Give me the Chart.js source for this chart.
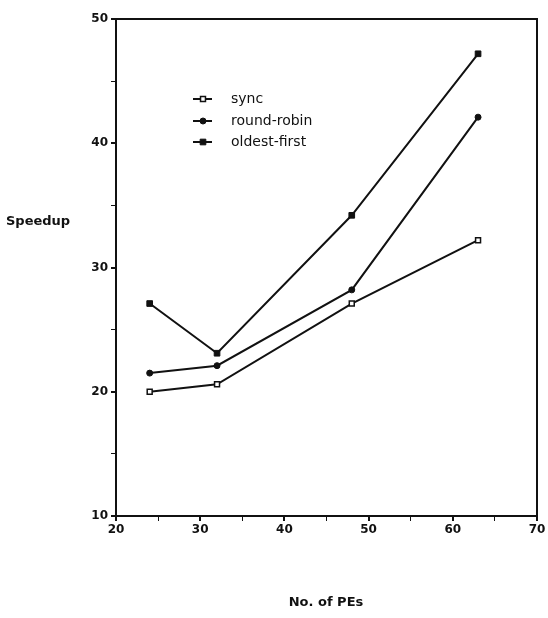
<!DOCTYPE html>
<html>
<head>
<meta charset="utf-8">
<script src="https://cdn.jsdelivr.net/npm/chart.js@4/dist/chart.umd.min.js"></script>
<style>
  html, body { margin: 0; padding: 0; background: #fff; }
  #wrap { width: 548px; height: 618px; position: relative; }
</style>
</head>
<body>
<div id="wrap"><canvas id="speedupChart"></canvas></div>
<script>
// Speedup vs. number of processing elements
const peCounts = [24, 32, 48, 63];
const syncSpeedup = [20.0, 20.6, 27.1, 32.2];
const roundRobinSpeedup = [21.5, 22.1, 28.2, 42.1];
const oldestFirstSpeedup = [27.1, 23.1, 34.2, 47.2];
const seriesLabels = ['sync', 'round-robin', 'oldest-first'];
const xTickLabels = [20, 30, 40, 50, 60, 70];
const yTickLabels = [10, 20, 30, 40, 50];

const ink = '#111';
const tickFont = { family: 'DejaVu Sans', size: 12, weight: 'bold' };

function toPoints(values) {
  return peCounts.map((pe, i) => ({ x: pe, y: values[i] }));
}

// box around the plot, axis titles and the inset legend
const framePlugin = {
  id: 'frame',
  afterDraw(chart) {
    const { ctx, chartArea: a } = chart;
    ctx.save();
    ctx.strokeStyle = ink;
    ctx.lineWidth = 2;
    ctx.strokeRect(a.left, a.top, a.right - a.left, a.bottom - a.top);

    ctx.fillStyle = ink;
    ctx.font = 'bold 13px "DejaVu Sans"';
    ctx.textBaseline = 'middle';
    ctx.textAlign = 'left';
    ctx.fillText('Speedup', 6, 222);
    ctx.textAlign = 'center';
    ctx.fillText('No. of PEs', 326, 603);

    // legend
    const rows = [99, 121, 142];
    ctx.font = '14px "DejaVu Sans"';
    ctx.textAlign = 'left';
    chart.data.datasets.forEach((ds, i) => {
      const y = rows[i];
      ctx.strokeStyle = ink;
      ctx.lineWidth = 2;
      ctx.beginPath();
      ctx.moveTo(193, y);
      ctx.lineTo(212, y);
      ctx.stroke();
      ctx.fillStyle = ds.pointBackgroundColor;
      ctx.strokeStyle = ds.pointBorderColor;
      ctx.lineWidth = ds.pointBorderWidth;
      Chart.helpers.drawPoint(ctx, {
        pointStyle: ds.pointStyle,
        radius: ds.pointRadius,
        borderWidth: ds.pointBorderWidth
      }, 203, y);
      ctx.fillStyle = ink;
      ctx.fillText(ds.label, 231, y);
    });
    ctx.restore();
  }
};

const ctx = document.getElementById('speedupChart').getContext('2d');
new Chart(ctx, {
  type: 'line',
  data: {
    datasets: [
      {
        label: seriesLabels[0],
        data: toPoints(syncSpeedup),
        borderColor: ink,
        borderWidth: 2,
        pointStyle: 'rect',
        pointRadius: 3.5,
        pointBorderWidth: 1.5,
        pointBackgroundColor: '#fff',
        pointBorderColor: ink
      },
      {
        label: seriesLabels[1],
        data: toPoints(roundRobinSpeedup),
        borderColor: ink,
        borderWidth: 2,
        pointStyle: 'circle',
        pointRadius: 3,
        pointBorderWidth: 1,
        pointBackgroundColor: ink,
        pointBorderColor: ink
      },
      {
        label: seriesLabels[2],
        data: toPoints(oldestFirstSpeedup),
        borderColor: ink,
        borderWidth: 2,
        pointStyle: 'rect',
        pointRadius: 4,
        pointBorderWidth: 1,
        pointBackgroundColor: ink,
        pointBorderColor: ink
      }
    ]
  },
  options: {
    responsive: true,
    maintainAspectRatio: false,
    animation: false,
    layout: { padding: { top: 19, right: 11, left: 0, bottom: 0 } },
    plugins: {
      legend: { display: false },
      tooltip: { enabled: false }
    },
    scales: {
      x: {
        type: 'linear',
        min: xTickLabels[0],
        max: xTickLabels[xTickLabels.length - 1],
        afterBuildTicks(scale) {
          const t = [];
          for (let v = scale.min; v <= scale.max; v += 5) t.push({ value: v });
          scale.ticks = t;
        },
        afterFit(scale) { scale.height = 102; },
        border: { display: true, color: ink, width: 2 },
        grid: {
          drawOnChartArea: false,
          color: ink,
          tickLength: 5,
          lineWidth: (c) => (xTickLabels.includes(c.tick.value) ? 2 : 1)
        },
        ticks: {
          color: ink,
          font: tickFont,
          padding: 2,
          maxRotation: 0,
          callback: (v) => (xTickLabels.includes(v) ? String(v) : '')
        }
      },
      y: {
        type: 'linear',
        min: yTickLabels[0],
        max: yTickLabels[yTickLabels.length - 1],
        afterBuildTicks(scale) {
          const t = [];
          for (let v = scale.min; v <= scale.max; v += 5) t.push({ value: v });
          scale.ticks = t;
        },
        afterFit(scale) { scale.width = 116; },
        border: { display: true, color: ink, width: 2 },
        grid: {
          drawOnChartArea: false,
          color: ink,
          tickLength: 5,
          lineWidth: (c) => (yTickLabels.includes(c.tick.value) ? 2 : 1)
        },
        ticks: {
          color: ink,
          font: tickFont,
          padding: 3,
          callback: (v) => (yTickLabels.includes(v) ? String(v) : '')
        }
      }
    }
  },
  plugins: [framePlugin]
});
</script>
</body>
</html>
